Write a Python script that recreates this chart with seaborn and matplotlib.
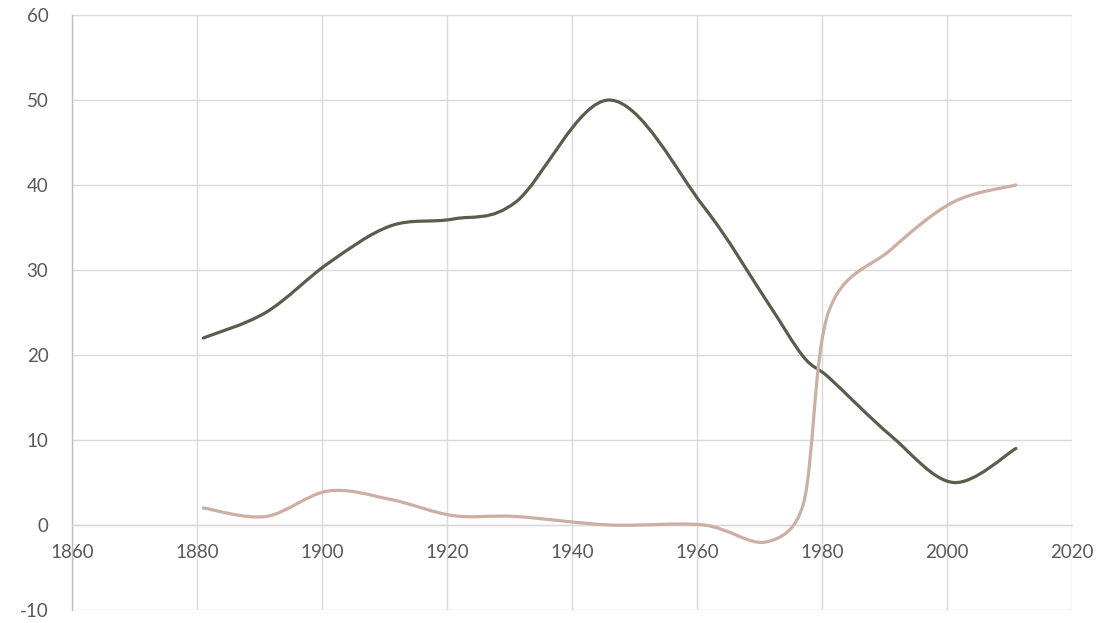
import matplotlib
matplotlib.use("Agg")
import matplotlib.pyplot as plt
from matplotlib.path import Path
from matplotlib.patches import PathPatch
import seaborn as sns

# census years and the two series
years = [1881, 1891, 1901, 1911, 1921, 1931, 1946, 1961, 1971, 1977, 1981, 1991, 2001, 2011]
dark_vals = [22, 25, 30.8, 35.2, 36, 38, 50, 37.5, 26.5, 19.8, 17.4, 10.5, 5, 9]
pink_vals = [2, 1, 4, 3, 1.1, 1, 0, 0, -2, 2.5, 25, 32.4, 38, 40]

x_ticks = [1860, 1880, 1900, 1920, 1940, 1960, 1980, 2000, 2020]
y_ticks = [-10, 0, 10, 20, 30, 40, 50, 60]

palette = sns.color_palette(["#595E4B", "#CCAFA3"])

# rough pixels per data unit, so the smoothing behaves like it does on screen
SX, SY = 6.225, 8.5


def smooth_path(xs, ys):
    # Excel's smoothed line: cubic Bezier, tension 1/6, control arms capped
    # at half the segment length
    pts = list(zip(xs, ys))
    n = len(pts)

    def dist(a, b):
        return (((a[0] - b[0]) * SX) ** 2 + ((a[1] - b[1]) * SY) ** 2) ** 0.5

    verts = [pts[0]]
    codes = [Path.MOVETO]
    for i in range(n - 1):
        p0 = pts[i - 1] if i > 0 else pts[i]
        p1 = pts[i]
        p2 = pts[i + 1]
        p3 = pts[i + 2] if i + 2 < n else pts[i + 1]
        d12, d02, d13 = dist(p1, p2), dist(p0, p2), dist(p1, p3)
        f1 = 1 / 6 if d02 / 6 < d12 / 2 else d12 / (2 * d02)
        f2 = 1 / 6 if d13 / 6 < d12 / 2 else d12 / (2 * d13)
        c1 = (p1[0] + (p2[0] - p0[0]) * f1, p1[1] + (p2[1] - p0[1]) * f1)
        c2 = (p2[0] - (p3[0] - p1[0]) * f2, p2[1] - (p3[1] - p1[1]) * f2)
        verts += [c1, c2, p2]
        codes += [Path.CURVE4] * 3
    return Path(verts, codes)


sns.set_theme(style="whitegrid")
plt.rcParams['font.family'] = ['Lato', 'DejaVu Sans']
plt.rcParams['axes.unicode_minus'] = False

fig = plt.figure(figsize=(11.15, 6.23), dpi=100)
ax = fig.add_axes([0.0646, 0.0209, 0.897, 0.955])
ax.set_facecolor("white")

for vals, col in zip([dark_vals, pink_vals], palette):
    ax.add_patch(PathPatch(smooth_path(years, vals), facecolor="none",
                           edgecolor=col, lw=2.3, capstyle="round", zorder=3))

ax.set_xlim(1860, 2020)
ax.set_ylim(-10, 60)
ax.set_xticks(x_ticks)
ax.set_yticks(y_ticks)
ax.grid(True, color="#D9D9D9", lw=1.0)

for s in ["top", "right"]:
    ax.spines[s].set_visible(False)
ax.spines["left"].set_color("#BFBFBF")
ax.spines["left"].set_linewidth(1.0)
ax.spines["bottom"].set_position(("data", 0))
ax.spines["bottom"].set_color("#D9D9D9")
ax.spines["bottom"].set_linewidth(1.0)

ax.tick_params(axis="y", length=0, pad=17, labelsize=13.5, labelcolor="#595959")
ax.tick_params(axis="x", length=0, pad=14, labelsize=13.5, labelcolor="#595959")

fig.savefig("out.png", dpi=100)
